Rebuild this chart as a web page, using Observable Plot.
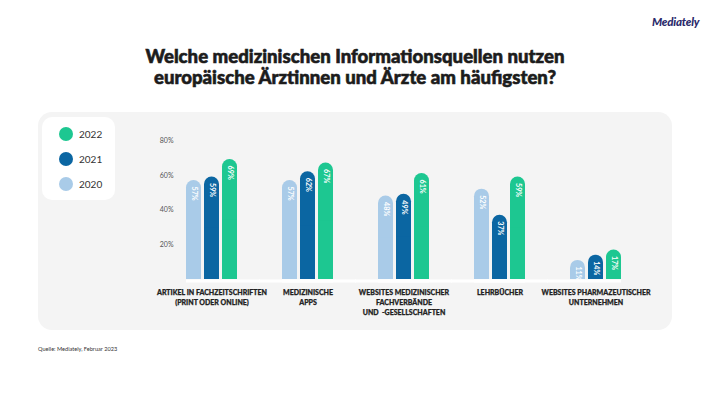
<!DOCTYPE html>
<html>
<head>
<meta charset="utf-8">
<script src="https://cdn.jsdelivr.net/npm/d3@7"></script>
<script src="https://cdn.jsdelivr.net/npm/@observablehq/plot@0.6"></script>
<style>
  html, body { margin: 0; padding: 0; background: #ffffff; }
  #page { position: relative; width: 710px; height: 399px; overflow: hidden; font-family: Lato, "Open Sans", sans-serif; }
  #logo { position: absolute; left: 652px; top: 15px; font: italic 900 11.5px Lato, sans-serif; color: #2b2a6b; letter-spacing: -0.2px; }
  #title { position: absolute; left: 0; width: 710px; top: 46px; text-align: center; font: 900 18.6px/21px Lato, sans-serif; color: #1c1c1c; margin: 0; -webkit-text-stroke: 0.6px #1c1c1c; }
  #panel { position: absolute; left: 38px; top: 112px; width: 634px; height: 218px; background: #f4f4f4; border-radius: 14px; }
  #legend { position: absolute; left: 42px; top: 117px; width: 73px; height: 83px; background: #ffffff; border-radius: 10px; }
  .li { position: absolute; left: 17px; height: 14px; display: flex; align-items: center; font: 400 10px Lato, sans-serif; color: #333; }
  .li span.dot { width: 14px; height: 14px; border-radius: 7px; margin-right: 6px; display: inline-block; }
  #chart { position: absolute; left: 0; top: 112px; }
  #source { position: absolute; left: 38px; top: 345px; font: 400 5.6px Lato, sans-serif; color: #333; }
</style>
</head>
<body>
<div id="page">
  <div id="logo">Mediately</div>
  <h1 id="title">Welche medizinischen Informationsquellen nutzen<br>europäische Ärztinnen und Ärzte am häufigsten?</h1>
  <div id="panel"></div>
  <div id="legend"></div>
  <div id="chart"></div>
  <div id="source">Quelle: Mediately, Februar 2023</div>
</div>
<script>
const categories = [
  "ARTIKEL IN FACHZEITSCHRIFTEN\n(PRINT ODER ONLINE)",
  "MEDIZINISCHE\nAPPS",
  "WEBSITES MEDIZINISCHER\nFACHVERBÄNDE\nUND  -GESELLSCHAFTEN",
  "LEHRBÜCHER",
  "WEBSITES PHARMAZEUTISCHER\nUNTERNEHMEN"
];
const years = ["2020", "2021", "2022"];
const values2020 = [57, 57, 48, 52, 11];
const values2021 = [59, 62, 49, 37, 14];
const values2022 = [69, 67, 61, 59, 17];
const colors = ["#a9cbe8", "#0b66a2", "#1dc791"];
const yTicks = [20, 40, 60, 80];
const legendOrder = ["2022", "2021", "2020"];

const series = [values2020, values2021, values2022];
const data = [];
categories.forEach((c, i) => {
  years.forEach((y, j) => data.push({category: c, year: y, value: series[j][i]}));
});

// legend
const legend = document.getElementById("legend");
legendOrder.forEach((y, k) => {
  const row = document.createElement("div");
  row.className = "li";
  row.style.top = (10 + k * 25) + "px";
  const dot = document.createElement("span");
  dot.className = "dot";
  dot.style.background = colors[years.indexOf(y)];
  row.appendChild(dot);
  row.appendChild(document.createTextNode(y));
  legend.appendChild(row);
});

const chart = Plot.plot({
  width: 710,
  height: 218,
  marginTop: 28,
  marginBottom: 51,
  marginLeft: 140,
  marginRight: 43,
  style: {background: "transparent", overflow: "visible", fontFamily: "Lato, sans-serif"},
  fx: {domain: categories, paddingInner: 0.465, paddingOuter: 0.465, axis: null, label: null},
  x: {domain: years, paddingInner: 0.18, paddingOuter: 0, axis: null, label: null},
  y: {domain: [0, 80], axis: null, label: null},
  color: {domain: years, range: colors},
  marks: [
    Plot.axisY(yTicks, {tickSize: 0, tickPadding: 13, tickFormat: d => d + "%", fontSize: 7, fill: "#555", label: null}),
    Plot.barY(data, {fx: "category", x: "year", y: "value", fill: "year", rx: 7.5}),
    Plot.barY(data, {fx: "category", x: "year", y1: 0, y2: d => d.value / 2, fill: "year"}),
    Plot.ruleY(categories.slice(0, 4), {fx: d => d, y: () => 0, stroke: "#ffffff", strokeWidth: 3, dy: 1.5, insetRight: -23}),
    Plot.ruleY(categories.slice(1), {fx: d => d, y: () => 0, stroke: "#ffffff", strokeWidth: 3, dy: 1.5, insetLeft: -23}),
    Plot.text(data, {fx: "category", x: "year", y: "value", text: d => d.value + "%", rotate: 90, textAnchor: "start", dy: 6, fill: "#ffffff", fontSize: 7.2, fontWeight: 700}),
    Plot.text(categories, {fx: d => d, text: d => d, frameAnchor: "bottom", lineAnchor: "top", dy: 8.5, lineHeight: 1.43, fontSize: 7, fontWeight: 900, fill: "#222", stroke: "#222", strokeWidth: 0.25})
  ]
});
document.getElementById("chart").appendChild(chart);
</script>
</body>
</html>
